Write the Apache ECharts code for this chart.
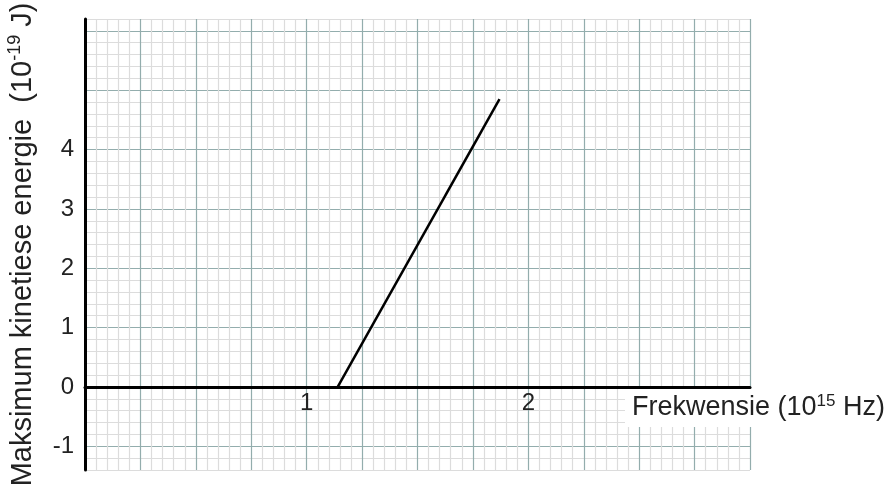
<!DOCTYPE html>
<html>
<head>
<meta charset="utf-8">
<script src="https://cdn.jsdelivr.net/npm/echarts@6/dist/echarts.min.js"></script>
<style>
  html, body { margin: 0; padding: 0; background: #fff; }
  #chart { width: 887px; height: 488px; }
</style>
</head>
<body>
<div id="chart"></div>
<script>
// photo-electric line: frequency (10^15 Hz) vs max kinetic energy (10^-19 J)
const frequency = [1.14, 1.87]
const energy = [0, 4.85]

const xLabels = [1, 2]
const yLabels = [-1, 0, 1, 2, 3, 4]

const xRange = [0, 3]
const yRange = [-1.4, 6.2]

const MAJOR = '#93adad'
const MINOR = '#dcdcdc'
const FONT = '"Liberation Sans", Arial, sans-serif'

const GRID_H = 451
// lift the main x axis from the grid bottom up to y = 0
const ZERO_OFFSET = -GRID_H * (0 - yRange[0]) / (yRange[1] - yRange[0])

const chart = echarts.init(document.getElementById('chart'))

const isInt = v => Math.abs(v - Math.round(v)) < 1e-6

chart.setOption({
  animation: false,
  grid: { left: 85, top: 19, width: 665, height: GRID_H, containLabel: false, outerBoundsMode: 'none' },
  xAxis: [
    {
      // main axis: thick line at y = 0 + labels
      type: 'value', min: xRange[0], max: xRange[1], interval: 1,
      position: 'bottom', offset: ZERO_OFFSET, z: 1,
      axisLine: { show: true, onZero: false, lineStyle: { color: '#000', width: 3 } },
      axisTick: { show: false },
      splitLine: { show: false },
      axisLabel: {
        margin: 4, fontSize: 24, color: '#222', fontFamily: FONT,
        formatter: v => (isInt(v) && xLabels.includes(Math.round(v))) ? String(Math.round(v)) : ''
      }
    },
    {
      // graph paper, vertical lines every 0.05
      type: 'value', min: xRange[0], max: xRange[1], interval: 0.05,
      position: 'bottom', z: 0,
      axisLine: { show: false, onZero: false },
      axisTick: { show: false },
      axisLabel: { show: false },
      splitLine: { show: true, lineStyle: { color: [MAJOR, MINOR, MINOR, MINOR, MINOR], width: 1.2 } }
    }
  ],
  yAxis: [
    {
      type: 'value', min: yRange[0], max: yRange[1], interval: 0.2,
      position: 'left', z: 1,
      axisLine: { show: true, onZero: false, lineStyle: { color: '#000', width: 3 } },
      axisTick: { show: false },
      splitLine: { show: false },
      axisLabel: {
        margin: 11, fontSize: 24, color: '#222', fontFamily: FONT,
        formatter: v => (isInt(v) && yLabels.includes(Math.round(v))) ? String(Math.round(v)) : ''
      },
      name: '{a|Maksimum kinetiese energie  (10}{s|-19}{a| J)}',
      nameLocation: 'middle',
      nameRotate: 90,
      nameGap: 45,
      nameTextStyle: {
        rich: {
          a: { fontSize: 29, color: '#222', fontFamily: FONT, lineHeight: 34 },
          s: { fontSize: 18, color: '#222', fontFamily: FONT, verticalAlign: 'top', lineHeight: 34, padding: [0, 0, 10, 0] }
        }
      }
    },
    {
      // graph paper, horizontal lines every 0.2
      type: 'value', min: yRange[0], max: yRange[1], interval: 0.2,
      position: 'left', z: 0,
      axisLine: { show: false, onZero: false },
      axisTick: { show: false },
      axisLabel: { show: false },
      splitLine: { show: true, lineStyle: { color: [MINOR, MINOR, MAJOR, MINOR, MINOR], width: 1.2 } }
    }
  ],
  graphic: [
    {
      type: 'text', left: 625, top: 389, z: 10,
      style: {
        text: '{a|Frekwensie (10}{s|15}{a| Hz)}',
        backgroundColor: '#fff',
        padding: [4, 6, 4, 7],
        rich: {
          a: { fontSize: 27, fill: '#222', fontFamily: FONT, lineHeight: 30 },
          s: { fontSize: 17, fill: '#222', fontFamily: FONT, verticalAlign: 'top', lineHeight: 30, padding: [0, 0, 8, 0] }
        }
      }
    }
  ],
  series: [
    {
      type: 'line',
      data: frequency.map((f, i) => [f, energy[i]]),
      symbol: 'none',
      lineStyle: { color: '#000', width: 2.5 },
      z: 3
    }
  ]
})
</script>
</body>
</html>
